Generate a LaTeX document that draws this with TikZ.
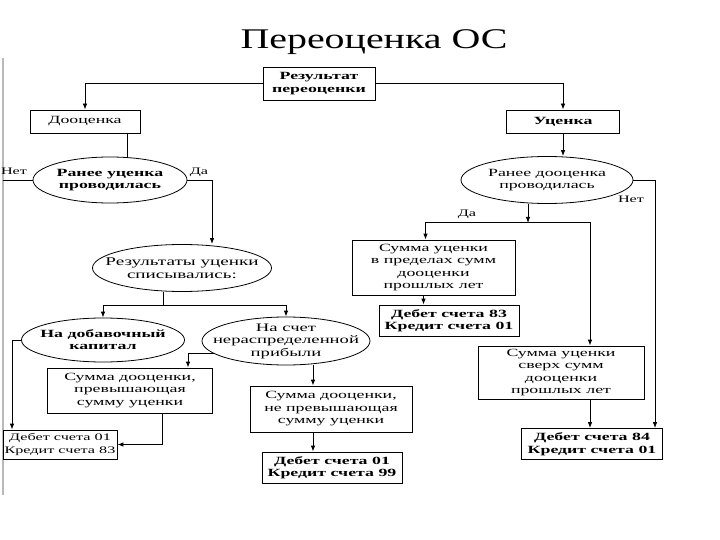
\documentclass[tikz,border=0pt]{standalone}
\usepackage{fontspec}
\setmainfont{Liberation Serif}
\newfontfamily\schemefont{Liberation Serif}[FakeStretch=1.62]
\newfontfamily\titlefont{Liberation Serif}[FakeStretch=1.4]
\usepackage{tikz}
\usetikzlibrary{shapes,arrows.meta,positioning,calc}

\begin{document}
\begin{tikzpicture}[
  x=1pt, y=-1pt,
  box/.style={draw, rectangle, fill=white, line width=0.8pt, align=center, inner sep=1pt,
    font=\schemefont\fontsize{11}{12.5}\selectfont},
  strongbox/.style={box, font=\schemefont\bfseries\fontsize{11}{12.5}\selectfont},
  oval/.style={draw, ellipse, line width=0.8pt, inner sep=0pt},
  ovaltext/.style={align=center, inner sep=0pt, font=\schemefont\fontsize{11}{12}\selectfont},
  strongtext/.style={ovaltext, font=\schemefont\bfseries\fontsize{11}{12}\selectfont},
  conn/.style={draw, line width=0.8pt},
  arr/.style={conn, -{Latex[length=6pt,width=4.5pt]}},
  answer/.style={inner sep=0pt, font=\schemefont\fontsize{10}{12}\selectfont},
]
\useasboundingbox (0,0) rectangle (720,540);
\fill[white] (0,0) rectangle (720,540);
\draw[gray!55, line width=2pt] (3,58) -- (3,495);

\node[anchor=base, font=\titlefont\fontsize{28.5}{30}\selectfont] (title) at (374,49) {Переоценка ОС};

\node[strongbox, minimum width=112pt, minimum height=33pt] (result) at (319,83.5) {Результат\\переоценки};
\node[box, minimum width=110pt, minimum height=23pt] (markup) at (85,121.5) {Дооценка};
\node[strongbox, minimum width=113pt, minimum height=23pt] (markdown) at (563,121.5) {Уценка};

\node[oval, minimum width=154pt, minimum height=46pt,
  label={[strongtext]center:Ранее уценка\\проводилась}] (wasdown) at (110,180) {};
\node[oval, minimum width=172pt, minimum height=47pt,
  label={[ovaltext]center:Ранее дооценка\\проводилась}] (wasup) at (547,180) {};
\node[oval, minimum width=179pt, minimum height=47pt,
  label={[ovaltext, font=\schemefont\fontsize{11.8}{12.5}\selectfont]center:Результаты уценки\\списывались:}] (writeoff) at (182,268) {};
\node[oval, minimum width=163pt, minimum height=44pt,
  label={[strongtext]center:На добавочный\\капитал}] (capital) at (103,340) {};
\node[oval, minimum width=168pt, minimum height=48pt,
  label={[ovaltext, font=\schemefont\fontsize{11.5}{12.5}\selectfont]center:На счет\\нераспределенной\\прибыли}] (profit) at (286,341) {};

\node[box, minimum width=165pt, minimum height=45pt] (overup) at (130,390.5) {Сумма дооценки,\\превышающая\\сумму уценки};
\node[box, minimum width=162pt, minimum height=46pt] (underup) at (331,409) {Сумма дооценки,\\не превышающая\\сумму уценки};
\node[box, minimum width=114pt, minimum height=29pt, font=\schemefont\fontsize{10}{12.5}\selectfont] (post0183) at (60,444.5) {Дебет счета 01\\Кредит счета 83};
\node[strongbox, minimum width=140pt, minimum height=31pt] (post0199) at (332,467.5) {Дебет счета 01\\Кредит счета 99};

\node[box, minimum width=163pt, minimum height=55pt] (within) at (433.5,267.5) {Сумма уценки\\в пределах сумм\\дооценки\\прошлых лет};
\node[strongbox, minimum width=140pt, minimum height=31pt] (post8301) at (449,320.5) {Дебет счета 83\\Кредит счета 01};
\node[box, minimum width=166pt, minimum height=53pt] (beyond) at (561,372.5) {Сумма уценки\\сверх сумм\\дооценки\\прошлых лет};
\node[strongbox, minimum width=141pt, minimum height=31pt] (post8401) at (592,444) {Дебет счета 84\\Кредит счета 01};

\coordinate (noleft) at (3,180);
\node[answer] (no1) at (14,171) {Нет};
\node[answer] (yes1) at (199,172) {Да};
\node[answer] (no2) at (631,199) {Нет};
\node[answer] (yes2) at (467,214) {Да};

\draw[arr] (result.west) -| (markup.north);
\draw[arr] (result.east) -| (markdown.north);
\draw[conn] ([xshift=42pt]markup.south) -- ([xshift=17pt]wasdown.north);
\draw[conn] (wasdown.west) -- (noleft);
\draw[arr] (wasdown.east) -| ([xshift=30pt]writeoff.north);
\draw[conn] ([xshift=-19pt]writeoff.south) -- ++(0,13) coordinate (split);
\draw[arr] (split) -| (capital.north);
\draw[arr] (split) -| (profit.north);
\draw[arr] (capital.west) -| ([xshift=-48pt]post0183.north);
\draw[arr] (profit.190) -| ([xshift=58pt]overup.north);
\draw[arr] ([xshift=27pt]profit.south) -- ([xshift=27pt]profit.south |- underup.north);
\draw[arr] ([xshift=32pt]overup.south) |- (post0183.east);
\draw[arr] ([xshift=-18pt]underup.south) -- ([xshift=-18pt]underup.south |- post0199.north);

\draw[arr] (markdown.south) -- (markdown.south |- wasup.north);
\draw[arr] (wasup.east) -| ([xshift=63pt]post8401.north);
\draw[arr] ([xshift=-19pt]wasup.south) -- ++(0,19) coordinate (fork);
\draw[arr] (fork) -| ([xshift=-8pt]within.north);
\draw[arr] (fork) -| ([xshift=29pt]beyond.north);
\draw[arr] ([xshift=-10pt]within.south) -- ([xshift=-10pt]within.south |- post8301.north);
\draw[arr] ([xshift=29pt]beyond.south) -- ([xshift=29pt]beyond.south |- post8401.north);
\end{tikzpicture}
\end{document}
